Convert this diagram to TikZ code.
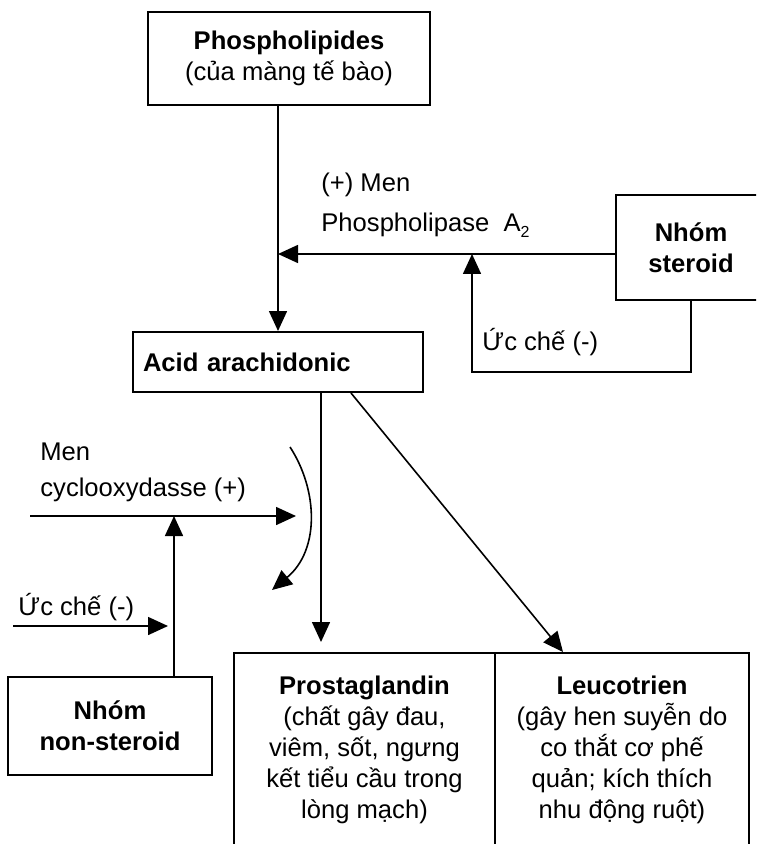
\documentclass[tikz,border=0pt]{standalone}
\usepackage{fontspec}
\setmainfont{Liberation Sans}
\usetikzlibrary{arrows.meta}
\usetikzlibrary{positioning}

\tikzset{
  box/.style={draw, line width=1pt, align=center, inner sep=0pt,
    font=\fontsize{12.8}{15.5}\selectfont},
  lbl/.style={anchor=west, inner sep=0pt, font=\fontsize{12.8}{15}\selectfont},
  arr/.style={line width=0.8pt, -{Triangle[length=10pt,width=9pt]}}
}

\begin{document}
\begin{tikzpicture}[x=0.5pt,y=-0.5pt]
\useasboundingbox (0,0) rectangle (756,844);
\clip (0,0) rectangle (756,844);

% boxes
\node[box, minimum width=141pt, minimum height=46.5pt] (phos) at (289,58.5)
  {\textbf{Phospholipides}\\(của màng tế bào)};
\node[box, align=left, text width=135pt, inner xsep=5pt,
  minimum height=30pt] (acid) at (278,362) {\textbf{Acid arachidonic}};
\node[box, minimum width=75pt, minimum height=52.5pt] (steroid) at (691,247.5)
  {\textbf{Nhóm}\\\textbf{steroid}};
\node[box, minimum width=102pt, minimum height=49pt] (nonst) at (110,726)
  {\textbf{Nhóm}\\\textbf{non-steroid}};
\node[box, minimum width=130.5pt, minimum height=97pt] (prost) at (364.5,750)
  {\textbf{Prostaglandin}\\(chất gây đau,\\viêm, sốt, ngưng\\kết tiểu cầu trong\\lòng mạch)};
\node[box, minimum width=127pt, minimum height=97pt] (leuco) at (622,750)
  {\textbf{Leucotrien}\\(gây hen suyễn do\\co thắt cơ phế\\quản; kích thích\\nhu động ruột)};

% labels
\node[lbl] (men1) at (321,185) {(+) Men};
\node[lbl] (pla) at (321,225)
  {Phospholipase~~A\raisebox{-0.45ex}{\fontsize{8}{8}\selectfont 2}};
\node[lbl] (uc1) at (482,342) {Ức chế (-)};
\node[lbl] (men2) at (40,452) {Men};
\node[lbl] (cox) at (40,490) {cyclooxydasse (+)};
\node[lbl] (uc2) at (18,607) {Ức chế (-)};

% free ends
\coordinate (j1) at (278,254);
\coordinate (j2) at (472,254);
\coordinate (k1) at (472,372);
\coordinate (pg) at (321,642);
\coordinate (ls) at (351,392);
\coordinate (lt) at (563,653);
\coordinate (cy0) at (30,516);
\coordinate (cy1) at (296,516);
\coordinate (j3) at (174,516);
\coordinate (uc0) at (13,626);
\coordinate (uc9) at (168,626);
\coordinate (cv0) at (290,447);
\coordinate (cv1) at (272,590);

% connectors
\draw[arr] (acid.north |- phos.south) -- (acid.north);
\draw[arr] (steroid.west |- j1) -- (j1);
\draw[arr] (steroid.south) |- (k1) -- (j2);
\draw[arr] (acid.south -| pg) -- (pg);
\draw[arr] (acid.south -| ls) -- (leuco.north -| lt);
\draw[arr] (cy0) -- (cy1);
\draw[arr] (nonst.north -| j3) -- (j3);
\draw[arr] (uc0) -- (uc9);
\draw[arr] (cv0) .. controls (318,490) and (320,550) .. (cv1);
\end{tikzpicture}
\end{document}
